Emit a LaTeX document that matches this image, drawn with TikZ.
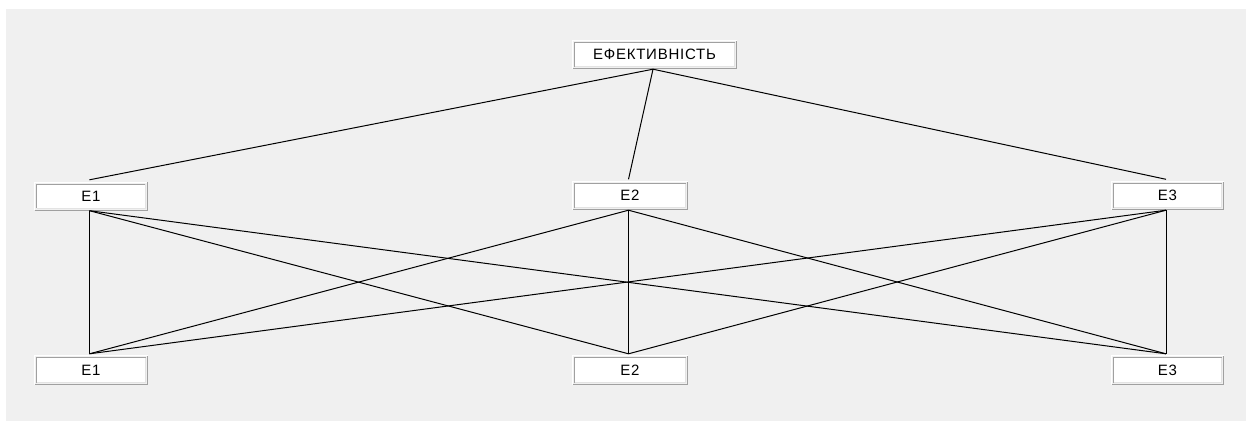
\documentclass[tikz,border=0pt]{standalone}
\usepackage{fontspec}
\setmainfont{Liberation Sans}
\newfontfamily\boxfont[LetterSpace=5]{Liberation Sans}
\definecolor{bgd}{HTML}{F0F0F0}
\definecolor{lightline}{HTML}{E3E3E3}
\definecolor{darkline}{HTML}{A0A0A0}
\tikzset{
  fbox/.style={rectangle, fill=white, inner sep=0pt, minimum height=29pt,
    font=\boxfont\fontsize{15}{17}\selectfont, text=black,
    path picture={
      \fill[bgd] (path picture bounding box.south west) rectangle (path picture bounding box.north east);
      \fill[white] ([shift={(3pt,-3pt)}]path picture bounding box.north west) rectangle ([shift={(-3pt,3pt)}]path picture bounding box.south east);
      \draw[white, line width=1pt] ([shift={(0.5pt,0.5pt)}]path picture bounding box.south west) |- ([shift={(-0.5pt,-0.5pt)}]path picture bounding box.north east);
      \draw[darkline, line width=1pt] ([shift={(0.5pt,0.5pt)}]path picture bounding box.south west) -| ([shift={(-0.5pt,-0.5pt)}]path picture bounding box.north east);
      \draw[darkline, line width=1pt] ([shift={(2.5pt,2.5pt)}]path picture bounding box.south west) |- ([shift={(-2.5pt,-2.5pt)}]path picture bounding box.north east);
      \draw[lightline, line width=1pt] ([shift={(2.5pt,2.5pt)}]path picture bounding box.south west) -| ([shift={(-2.5pt,-2.5pt)}]path picture bounding box.north east);
    }},
  conn/.style={draw=black, line width=1pt}
}
\begin{document}
\begin{tikzpicture}[x=1pt, y=-1pt]
\useasboundingbox (0,0) rectangle (1246,421);
\fill[bgd] (6,9) rectangle (1246,421);
\node[fbox, minimum width=165pt] (top) at (654.5,54.5) {ЕФЕКТИВНІСТЬ};
\node[fbox, minimum width=114pt] (m1) at (91,196) {E1};
\node[fbox, minimum width=116pt] (m2) at (630,195.5) {E2};
\node[fbox, minimum width=113pt] (m3) at (1167.5,195.5) {E3};
\node[fbox, minimum width=114pt, minimum height=30pt] (b1) at (91,370) {E1};
\node[fbox, minimum width=116pt, minimum height=30pt] (b2) at (630,370) {E2};
\node[fbox, minimum width=113pt, minimum height=30pt] (b3) at (1167.5,370) {E3};
\foreach \m in {m1,m2,m3}{
  \draw[conn] ([xshift=-1.5pt]top.south) -- ([xshift=-1.5pt,yshift=1.5pt]\m.north);
}
\foreach \m in {m1,m2,m3}{
  \foreach \b in {b1,b2,b3}{
    \draw[conn] ([xshift=-1.5pt]\m.south) -- ([xshift=-1.5pt,yshift=1pt]\b.north);
  }
}
\end{tikzpicture}
\end{document}
